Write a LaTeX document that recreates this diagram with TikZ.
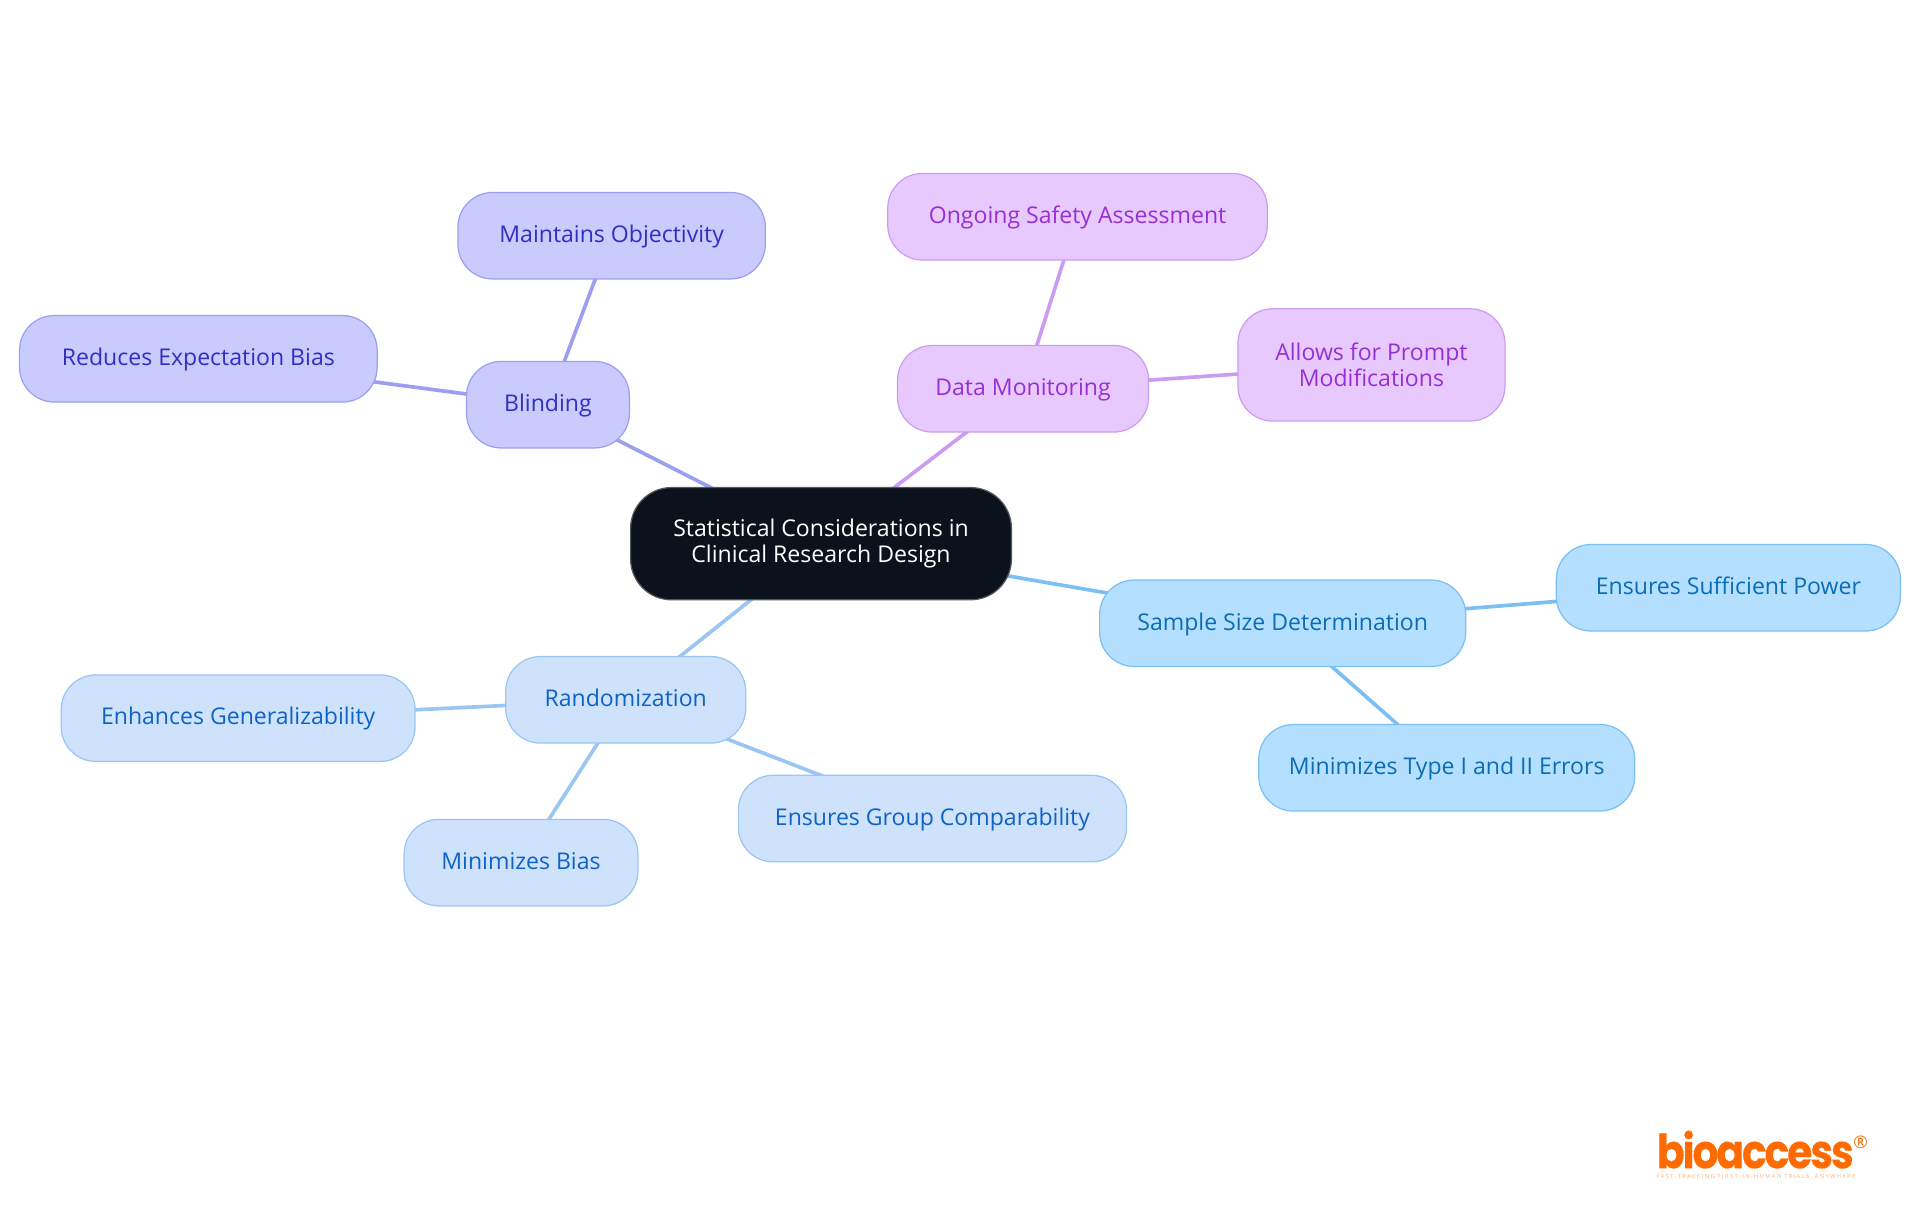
\documentclass[tikz,border=0pt]{standalone}
\usepackage{fontspec}
\setmainfont{Open Sans}
\newfontfamily\logofont[FakeStretch=.87, LetterSpace=-4.5, BoldFeatures={FakeBold=.3}]{Poppins}
\newfontfamily\tagfont[LetterSpace=24.6]{Open Sans}
\usetikzlibrary{backgrounds}
\definecolor{blindfill}{HTML}{CACBFD}
\definecolor{blindline}{HTML}{9C9EF2}
\definecolor{blindtext}{HTML}{2F2FC4}
\definecolor{monfill}{HTML}{E8C9FD}
\definecolor{monline}{HTML}{CB9DF2}
\definecolor{montext}{HTML}{9630D6}
\definecolor{sizefill}{HTML}{B4DFFF}
\definecolor{sizeline}{HTML}{7CBFF2}
\definecolor{sizetext}{HTML}{0A6DB5}
\definecolor{randfill}{HTML}{CEE2FC}
\definecolor{randline}{HTML}{9BC5F3}
\definecolor{randtext}{HTML}{0F62C6}
\definecolor{rootfill}{HTML}{0C121B}
\definecolor{logoorange}{HTML}{FF6B00}
\tikzset{
  box/.style={draw, line width=.6pt, rounded corners=17pt, align=center, inner sep=0pt,
    minimum height=42.4pt, text height=8.4pt, text depth=1.8pt, font=\fontsize{11.3}{12.6}\selectfont},
  twolines/.style={text height=, text depth=, minimum height=55pt},
  rootbox/.style={box, twolines, fill=rootfill, draw=rootfill!70!white, text=white, rounded corners=20pt},
  blindbox/.style={box, fill=blindfill, draw=blindline, text=blindtext},
  monbox/.style={box, fill=monfill, draw=monline, text=montext},
  sizebox/.style={box, fill=sizefill, draw=sizeline, text=sizetext},
  randbox/.style={box, fill=randfill, draw=randline, text=randtext},
  link/.style={line width=1.8pt}
}
\begin{document}
\begin{tikzpicture}[x=.6pt, y=-.6pt]
\useasboundingbox (0,0) rectangle (1568,992.25);
% centre
\node[rootbox, minimum width=186.6pt] (root) at (670.5,444) {Statistical Considerations in\\Clinical Research Design};
% blinding
\node[blindbox, minimum width=79.8pt] (blinding) at (447.5,330.5) {Blinding};
\node[blindbox, minimum width=150.6pt] (objectivity) at (499.5,192.5) {Maintains Objectivity};
\node[blindbox, minimum width=175.2pt] (expectation) at (162,293) {Reduces Expectation Bias};
% monitoring
\node[monbox, minimum width=123pt] (monitoring) at (835.5,317.5) {Data Monitoring};
\node[monbox, minimum width=186pt] (safety) at (880,177) {Ongoing Safety Assessment};
\node[monbox, twolines, minimum width=130.8pt] (prompt) at (1120,298) {Allows for Prompt\\Modifications};
% sample size
\node[sizebox, minimum width=179.4pt] (sample) at (1047.5,509) {Sample Size Determination};
\node[sizebox, minimum width=168.6pt] (power) at (1411.5,480) {Ensures Sufficient Power};
\node[sizebox, minimum width=184.2pt] (errors) at (1181.5,627) {Minimizes Type I and II Errors};
% randomization
\node[randbox, minimum width=117.6pt] (random) at (511,571.5) {Randomization};
\node[randbox, minimum width=173.4pt] (general) at (194.5,586.5) {Enhances Generalizability};
\node[randbox, minimum width=114.6pt] (bias) at (425.5,704.5) {Minimizes Bias};
\node[randbox, minimum width=190.2pt] (groups) at (761.5,668.5) {Ensures Group Comparability};
% links under the boxes
\begin{scope}[on background layer]
\foreach \a in {objectivity,expectation,root}
 \draw[link, blindline] (blinding.center) -- (\a.center);
\foreach \a in {safety,prompt,root}
 \draw[link, monline] (monitoring.center) -- (\a.center);
\foreach \a in {power,errors,root}
 \draw[link, sizeline] (sample.center) -- (\a.center);
\foreach \a in {general,bias,groups,root}
 \draw[link, randline] (random.center) -- (\a.center);
\end{scope}
% logo
\node[text=logoorange, font=\logofont\fontsize{23}{24}\selectfont\bfseries, inner sep=0pt, anchor=base] (logo) at (1433.5,954) {bioaccess};
\node[text=logoorange, font=\fontsize{8.5}{9}\selectfont, inner sep=0pt] (regmark) at (1519.5,932.5) {®};
\node[text=logoorange!55!white, font=\tagfont\fontsize{2.8}{3}\selectfont, inner sep=0pt, anchor=base] (tagline) at (1434,962.5) {FAST-TRACKING FIRST-IN-HUMAN TRIALS, ANYWHERE};
\end{tikzpicture}
\end{document}
